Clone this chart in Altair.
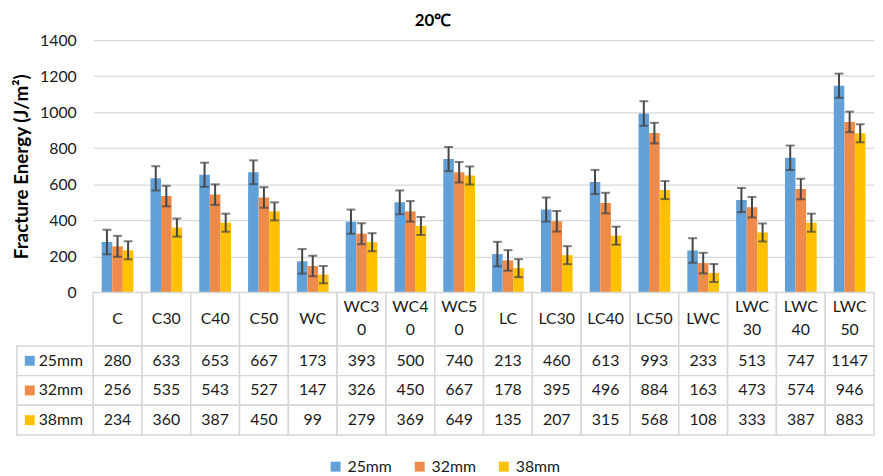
import altair as alt
import pandas as pd

categories = ["C", "C30", "C40", "C50", "WC", "WC30", "WC40", "WC50",
              "LC", "LC30", "LC40", "LC50", "LWC", "LWC30", "LWC40", "LWC50"]
header_labels = ["C", "C30", "C40", "C50", "WC", "WC3\n0", "WC4\n0", "WC5\n0",
                 "LC", "LC30", "LC40", "LC50", "LWC", "LWC\n30", "LWC\n40", "LWC\n50"]
series = ["25mm", "32mm", "38mm"]

vals_25 = [280, 633, 653, 667, 173, 393, 500, 740, 213, 460, 613, 993, 233, 513, 747, 1147]
vals_32 = [256, 535, 543, 527, 147, 326, 450, 667, 178, 395, 496, 884, 163, 473, 574, 946]
vals_38 = [234, 360, 387, 450, 99, 279, 369, 649, 135, 207, 315, 568, 108, 333, 387, 883]

err_25 = [68, 67, 67, 66, 68, 67, 66, 67, 68, 67, 67, 68, 68, 67, 68, 67]
err_32 = [58, 57, 57, 57, 57, 58, 57, 57, 57, 57, 57, 57, 57, 57, 57, 57]
err_38 = [50, 50, 50, 50, 48, 50, 50, 50, 50, 50, 50, 50, 50, 50, 50, 50]

y_ticks = [0, 200, 400, 600, 800, 1000, 1200, 1400]
colors = ["#62A0D8", "#EE8A4A", "#FFC000"]

rows = []
for s, vals, errs in zip(series, [vals_25, vals_32, vals_38], [err_25, err_32, err_38]):
    for c, h, v, e in zip(categories, header_labels, vals, errs):
        rows.append(dict(cat=c, header=h, series=s, value=v, lo=v - e, hi=v + e))
df = pd.DataFrame(rows)
hdr = pd.DataFrame({"cat": categories, "header": header_labels})
lbl = pd.DataFrame({"series": series})

FONT = "Lato"
W = 789
GRID = "#D9D9D9"
BORDER = "#D6D6D6"
TXT = "#1a1a1a"
color_scale = alt.Scale(domain=series, range=colors)

x_bar = alt.X("cat:N", sort=categories,
              scale=alt.Scale(paddingInner=0.35, paddingOuter=0.175), axis=None)
x_off = alt.XOffset("series:N", sort=series, scale=alt.Scale(domain=series))
y_axis = alt.Axis(values=y_ticks, format="d", labelOverlap=False,
                  title="Fracture Energy (J/m²)", titleFont=FONT, titleFontSize=19,
                  titleFontWeight="bold", titleColor="#000", titleX=-72, titleY=127.5,
                  titleBaseline="middle", titleAngle=-90, titlePadding=0,
                  labelFont=FONT, labelFontSize=16, labelColor=TXT, labelPadding=17,
                  ticks=False, tickSize=0, domain=False, grid=True,
                  gridColor=GRID, gridWidth=1.3)
y_scale = alt.Scale(domain=[0, 1400], nice=False)

base = alt.Chart(df)
bars = base.mark_bar().encode(
    x=x_bar, xOffset=x_off,
    y=alt.Y("value:Q", scale=y_scale, axis=y_axis),
    color=alt.Color("series:N", scale=color_scale,
                    legend=alt.Legend(orient="none", legendX=237, legendY=423,
                                      direction="horizontal", title=None,
                                      symbolType="square", symbolSize=100,
                                      symbolStrokeWidth=0, labelFont=FONT,
                                      labelFontSize=16, labelColor=TXT,
                                      columnPadding=20)))
err_rule = base.mark_rule(color="#454545", strokeWidth=2).encode(
    x=x_bar, xOffset=x_off,
    y=alt.Y("lo:Q", scale=y_scale, axis=y_axis), y2="hi:Q")
cap_lo = base.mark_tick(color="#454545", size=9, thickness=2).encode(
    x=x_bar, xOffset=x_off, y=alt.Y("lo:Q", scale=y_scale, axis=y_axis))
cap_hi = base.mark_tick(color="#454545", size=9, thickness=2).encode(
    x=x_bar, xOffset=x_off, y=alt.Y("hi:Q", scale=y_scale, axis=y_axis))

top = alt.layer(bars, err_rule, cap_lo, cap_hi).properties(
    width=W, height=255,
    title=alt.TitleParams("20℃", font=FONT, fontSize=17, fontWeight="bold",
                          color="#000", anchor="middle", dx=-51, offset=2))

x_tab = alt.X("cat:N", sort=categories,
              scale=alt.Scale(paddingInner=0, paddingOuter=0), axis=None)

h_rect = alt.Chart(hdr).mark_rect(fill="white", stroke=BORDER, strokeWidth=1.5).encode(
    x=x_tab, y=alt.value(0), y2=alt.value(54))
h_text1 = alt.Chart(hdr).transform_filter(
    "indexof(datum.header, '\\n') < 0"
).mark_text(font=FONT, fontSize=16, baseline="middle", color=TXT).encode(
    x=x_tab, y=alt.value(27), text="header:N")
h_text2 = alt.Chart(hdr).transform_filter(
    "indexof(datum.header, '\\n') >= 0"
).mark_text(font=FONT, fontSize=16, lineBreak="\n", lineHeight=23,
            baseline="middle", color=TXT).encode(
    x=x_tab, y=alt.value(15), text="header:N")
header = alt.layer(h_rect, h_text1, h_text2).properties(width=W, height=54)

y_row = alt.Y("series:N", sort=series,
              scale=alt.Scale(paddingInner=0, paddingOuter=0), axis=None)
cells = alt.Chart(df).mark_rect(fill="white", stroke=BORDER, strokeWidth=1.5).encode(
    x=x_tab, y=y_row)
cell_text = alt.Chart(df).mark_text(font=FONT, fontSize=16, baseline="middle",
                                    color=TXT).encode(
    x=x_tab, y=y_row, text="value:Q")
lbl_cell = alt.Chart(lbl).mark_rect(fill="white", stroke=BORDER, strokeWidth=1.5).encode(
    x=alt.value(-77), x2=alt.value(0), y=y_row)
lbl_sw = alt.Chart(lbl).mark_square(size=100, opacity=1).encode(
    x=alt.value(-64), y=y_row,
    color=alt.Color("series:N", scale=color_scale, legend=None))
lbl_text = alt.Chart(lbl).mark_text(font=FONT, fontSize=16, align="left",
                                    baseline="middle", color=TXT).encode(
    x=alt.value(-55), y=y_row, text="series:N")
values = alt.layer(cells, cell_text, lbl_cell, lbl_sw, lbl_text).properties(
    width=W, height=90)

chart = alt.vconcat(top, header, values, spacing=0, bounds="flush").resolve_scale(
    x="independent", color="independent"
).properties(
    padding={"left": 4, "top": 2, "right": 0, "bottom": 0},
    background="white"
).configure_view(stroke=None)

chart.save("out.html", embed_options={"renderer": "svg", "actions": False})
